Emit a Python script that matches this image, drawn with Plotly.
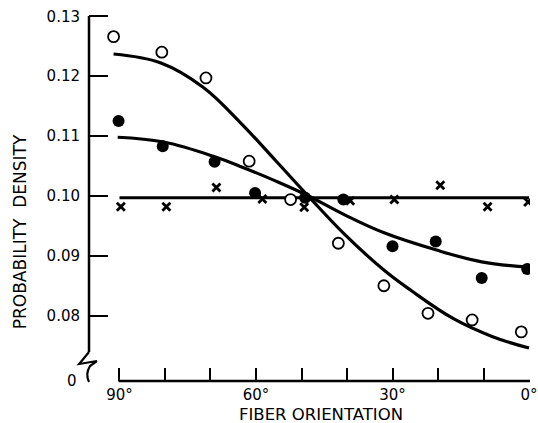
import plotly.graph_objects as go

# ---- data ----
# open circles
open_deg = [91.3, 80.7, 71.0, 61.5, 52.4, 41.9, 31.9, 22.2, 12.5, 1.7]
open_val = [0.1266, 0.1240, 0.1197, 0.1058, 0.0994, 0.0921, 0.0850, 0.0804, 0.0793, 0.0773]
# filled circles
filled_deg = [90.2, 80.5, 69.1, 60.2, 49.2, 40.8, 30.0, 20.5, 10.4, 0.4]
filled_val = [0.1125, 0.1083, 0.1057, 0.1005, 0.0997, 0.0994, 0.0916, 0.0924, 0.0863, 0.0878]
# crosses
cross_deg = [89.7, 79.7, 68.7, 58.6, 49.4, 39.3, 29.6, 19.5, 9.1, 0.2]
cross_val = [0.0982, 0.0982, 0.1014, 0.0995, 0.0981, 0.0992, 0.0994, 0.1018, 0.0982, 0.0990]

# fitted curves (read points)
open_fit_deg = [91.3, 80.9, 71.7, 63.5, 55.8, 48.3, 40.4, 31.7, 25.9, 16.6, 8.0, 0.0]
open_fit_val = [0.1237, 0.1222, 0.1182, 0.1123, 0.1060, 0.0998, 0.0935, 0.0875, 0.0842, 0.0795, 0.0765, 0.0746]
mid_fit_deg = [90.4, 80.3, 68.9, 63.0, 56.0, 49.0, 40.4, 31.7, 20.5, 10.4, 0.0]
mid_fit_val = [0.1098, 0.1090, 0.1065, 0.1048, 0.1026, 0.1002, 0.0968, 0.0938, 0.0910, 0.0890, 0.0881]
flat_fit_deg = [90.0, 0.0]
flat_fit_val = [0.0997, 0.0997]

x_tickvals = [90, 80, 70, 60, 50, 40, 30, 20, 10, 0]
x_ticktext = ["90°", "", "", "60°", "", "", "30°", "", "", "0°"]
y_tickvals = [0.08, 0.09, 0.10, 0.11, 0.12, 0.13]
y_ticktext = ["0.08", "0.09", "0.10", "0.11", "0.12", "0.13"]

FONT = "DejaVu Sans"
W, H = 538, 423
L, R, T, B = 89, 0, 8, 42
pw = W - L - R
ph = H - T - B


def px_x(p):
    return (p - L) / pw


def px_y(p):
    return (H - B - p) / ph


fig = go.Figure()
for xd, yd in [(open_fit_deg, open_fit_val), (mid_fit_deg, mid_fit_val), (flat_fit_deg, flat_fit_val)]:
    fig.add_trace(go.Scatter(x=xd, y=yd, mode="lines",
                             line=dict(color="black", width=3.2, shape="spline", smoothing=1.1),
                             showlegend=False, hoverinfo="skip"))

fig.add_trace(go.Scatter(x=open_deg, y=open_val, mode="markers", showlegend=False,
                         marker=dict(symbol="circle", size=11, color="white",
                                     line=dict(color="black", width=1.8))))
fig.add_trace(go.Scatter(x=filled_deg, y=filled_val, mode="markers", showlegend=False,
                         marker=dict(symbol="circle", size=12, color="black")))
fig.add_trace(go.Scatter(x=cross_deg, y=cross_val, mode="markers", showlegend=False,
                         marker=dict(symbol="x-thin", size=8, color="black",
                                     line=dict(color="black", width=2.8))))

shapes = [
    # y axis line
    dict(type="line", xref="paper", yref="paper", x0=0, x1=0, y0=px_y(16), y1=px_y(352),
         line=dict(color="black", width=2.5)),
    # axis break squiggle
    dict(type="path", xref="paper", yref="paper",
         path=f"M {px_x(89)},{px_y(352)} L {px_x(79)},{px_y(364)} L {px_x(97)},{px_y(361)} "
              f"L {px_x(90)},{px_y(366)} Q {px_x(85)},{px_y(374)} {px_x(89)},{px_y(382)}",
         line=dict(color="black", width=2.2)),
    # x axis line
    dict(type="line", xref="paper", yref="paper", x0=px_x(119), x1=1, y0=0, y1=0,
         line=dict(color="black", width=2.5)),
]

annotations = [
    dict(text="0", xref="paper", yref="paper", x=px_x(79), y=px_y(381), xanchor="right",
         yanchor="middle", showarrow=False, font=dict(family=FONT, size=15, color="black")),
    dict(text="PROBABILITY  DENSITY", xref="paper", yref="paper", x=px_x(19), y=px_y(232),
         xanchor="center", yanchor="middle", textangle=-90, showarrow=False,
         font=dict(family=FONT, size=17, color="black")),
    dict(text="FIBER ORIENTATION", xref="paper", yref="paper", x=px_x(325), y=px_y(414),
         xanchor="center", yanchor="middle", showarrow=False,
         font=dict(family=FONT, size=16.5, color="black")),
]

fig.update_layout(
    width=W, height=H,
    margin=dict(l=L, r=R, t=T, b=B),
    paper_bgcolor="white", plot_bgcolor="white",
    font=dict(family=FONT, size=15, color="black"),
    shapes=shapes, annotations=annotations,
    xaxis=dict(range=[96.70, -0.216], tickvals=x_tickvals, ticktext=x_ticktext,
               ticks="inside", ticklen=13, tickwidth=2, tickcolor="black",
               showline=False, showgrid=False, zeroline=False, ticklabeloverflow="allow",
               ticklabelstandoff=3,
               tickfont=dict(family=FONT, size=15, color="black")),
    yaxis=dict(range=[0.0691, 0.13138], tickvals=y_tickvals, ticktext=y_ticktext,
               ticks="inside", ticklen=19, tickwidth=2, tickcolor="black",
               showline=False, showgrid=False, zeroline=False, ticklabelstandoff=8,
               tickfont=dict(family=FONT, size=15, color="black")),
)

fig.write_html("out.html", config={"displayModeBar": False},
               post_script="document.body.style.margin='0';")
